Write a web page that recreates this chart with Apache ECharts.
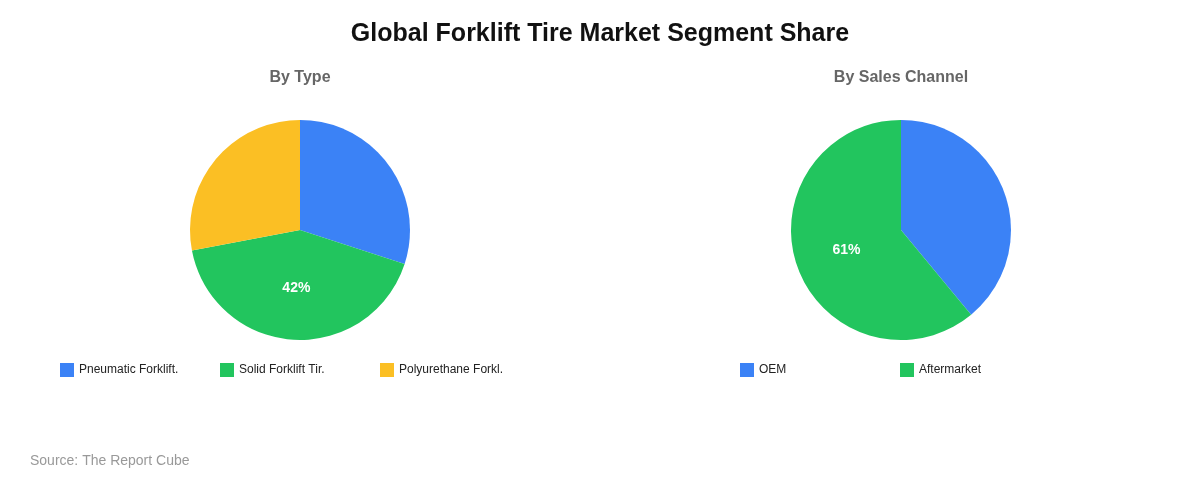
<!DOCTYPE html>
<html><head><meta charset="utf-8">
<script src="https://cdn.jsdelivr.net/npm/echarts@6/dist/echarts.min.js"></script>
<style>html,body{margin:0;padding:0;background:#fff}#c{width:1200px;height:480px}</style>
</head><body><div id="c"></div>
<script>
const typeNames = ["Pneumatic Forklift.", "Solid Forklift Tir.", "Polyurethane Forkl."];
const typeValues = [30, 42, 28];
const channelNames = ["OEM", "Aftermarket"];
const channelValues = [39, 61];
const colors = ["#3b82f6", "#22c55e", "#fbbf24"];

const chart = echarts.init(document.getElementById('c'));
const F = 'Arial, Liberation Sans';
const lbl = {
  show: true, position: 'inside', color: '#fff', fontWeight: 'bold', fontSize: 14, fontFamily: F,
  formatter: p => p.percent >= 40 ? Math.round(p.percent) + '%' : ''
};
const legends = [];
typeNames.forEach((n, i) => legends.push({ name: n, left: 60 + i * 160 }));
channelNames.forEach((n, i) => legends.push({ name: n, left: 740 + i * 160 }));
chart.setOption({
  title: [
    { text: 'Global Forklift Tire Market Segment Share', left: 'center', top: 22, padding: 0,
      textStyle: { fontSize: 25, fontWeight: 'bold', color: '#111', fontFamily: F } },
    { text: 'By Type', left: 300, textAlign: 'center', top: 70, padding: 0,
      textStyle: { fontSize: 16, fontWeight: 'bold', color: '#666', fontFamily: F } },
    { text: 'By Sales Channel', left: 901, textAlign: 'center', top: 70, padding: 0,
      textStyle: { fontSize: 16, fontWeight: 'bold', color: '#666', fontFamily: F } },
    { text: 'Source: The Report Cube', left: 30, top: 454, padding: 0,
      textStyle: { fontSize: 14, fontWeight: 'normal', color: '#999', fontFamily: F } }
  ],
  color: colors,
  legend: legends.map(l => ({
    data: [l.name], left: l.left, top: 363, padding: 0, icon: 'rect', itemWidth: 14, itemHeight: 14,
    itemGap: 6, textStyle: { fontSize: 12, color: '#222', fontFamily: F }
  })),
  series: [
    { type: 'pie', center: [300, 230], radius: [0, 110], startAngle: 90, clockwise: true,
      label: lbl, labelLine: { show: false }, emphasis: { disabled: true },
      data: typeNames.map((n, i) => ({ name: n, value: typeValues[i] })) },
    { type: 'pie', center: [901, 230], radius: [0, 110], startAngle: 90, clockwise: true,
      label: lbl, labelLine: { show: false }, emphasis: { disabled: true },
      data: channelNames.map((n, i) => ({ name: n, value: channelValues[i] })) }
  ]
});
</script></body></html>
